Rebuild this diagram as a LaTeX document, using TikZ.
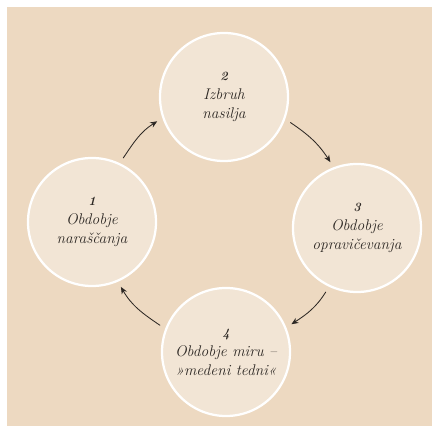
\documentclass[tikz,border=0pt]{standalone}
\usetikzlibrary{arrows.meta}

\definecolor{paper}{RGB}{237,217,193}
\definecolor{disc}{RGB}{242,229,213}
\definecolor{ink}{RGB}{45,40,36}

\tikzset{
  phase/.style={circle, draw=white, line width=1.6pt, fill=disc,
    minimum size=3.2cm, inner sep=0pt, outer sep=5pt, align=center,
    text=ink, font=\fontsize{11}{13.5}\selectfont\itshape},
  cyclearrow/.style={draw=ink, line width=0.6pt,
    -{Stealth[length=5pt,width=4.2pt]}}
}

\begin{document}
\begin{tikzpicture}[x=0.025cm, y=0.025cm]
    \useasboundingbox (0,0) rectangle (435,434);
    \fill[paper] (7,8) rectangle (432,427);

    % the four phases
    \node[phase] (n1) at (92,212)  {{\small\bfseries 1}\\Obdobje\\naraščanja};
    \node[phase] (n2) at (224,337) {{\small\bfseries 2}\\Izbruh\\nasilja};
    \node[phase] (n3) at (357,206) {{\small\bfseries 3}\\Obdobje\\opravičevanja};
    \node[phase] (n4) at (226,82)  {{\small\bfseries 4}\\Obdobje miru --\\»medeni tedni«};

    % the cycle
    \draw[cyclearrow] (n1.64)  to[out=56,  in=212] (n2.200);
    \draw[cyclearrow] (n2.-21) to[out=-34, in=123] (n3.112);
    \draw[cyclearrow] (n3.244) to[out=238, in=33]  (n4.23);
    \draw[cyclearrow] (n4.158) to[out=146, in=300] (n1.-66);
\end{tikzpicture}
\end{document}
